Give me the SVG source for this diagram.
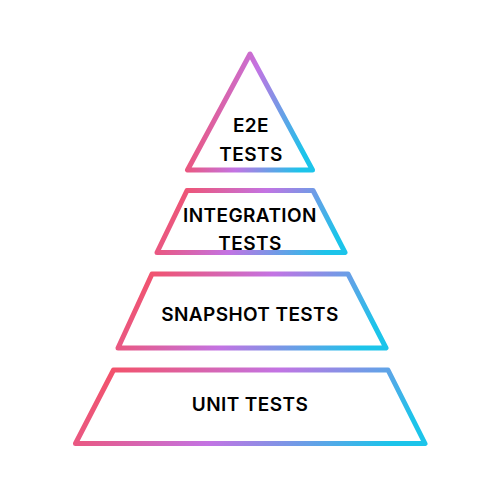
<svg xmlns="http://www.w3.org/2000/svg" width="500" height="500" viewBox="0 0 500 500">
  <defs>
    <linearGradient id="tierStroke" x1="0" y1="0.3" x2="1" y2="0.5">
      <stop offset="0.05" stop-color="#f2526c"/>
      <stop offset="0.5" stop-color="#c373e3"/>
      <stop offset="1" stop-color="#1cc4ea"/>
    </linearGradient>
  </defs>
  <style>
    .tier { fill: #ffffff; stroke: url(#tierStroke); stroke-width: 5; stroke-linejoin: round; }
    .label { font-family: "Inter", "Liberation Sans", sans-serif; font-weight: 600; font-size: 19px; letter-spacing: 0.4px; fill: #000000; text-anchor: middle; dominant-baseline: central; }
  </style>
  <rect width="500" height="500" fill="#ffffff"/>
  <g id="e2e">
    <polygon class="tier" points="250,54 187.5,170 312.5,170"/>
    <text class="label" x="251" y="125">E2E</text>
    <text class="label" x="251" y="154">TESTS</text>
  </g>
  <g id="integration">
    <polygon class="tier" points="187,190.5 313,190.5 345,252.5 157,252.5"/>
    <text class="label" x="250" y="215.5">INTEGRATION</text>
    <text class="label" x="250" y="243.5">TESTS</text>
  </g>
  <g id="snapshot">
    <polygon class="tier" points="152,274 348,274 386,348 118,348"/>
    <text class="label" x="250" y="314.5">SNAPSHOT TESTS</text>
  </g>
  <g id="unit">
    <polygon class="tier" points="113.5,370 388,370 425,443.5 75.5,443.5"/>
    <text class="label" x="250" y="404.5">UNIT TESTS</text>
  </g>
  <g id="connectors"/>
</svg>
